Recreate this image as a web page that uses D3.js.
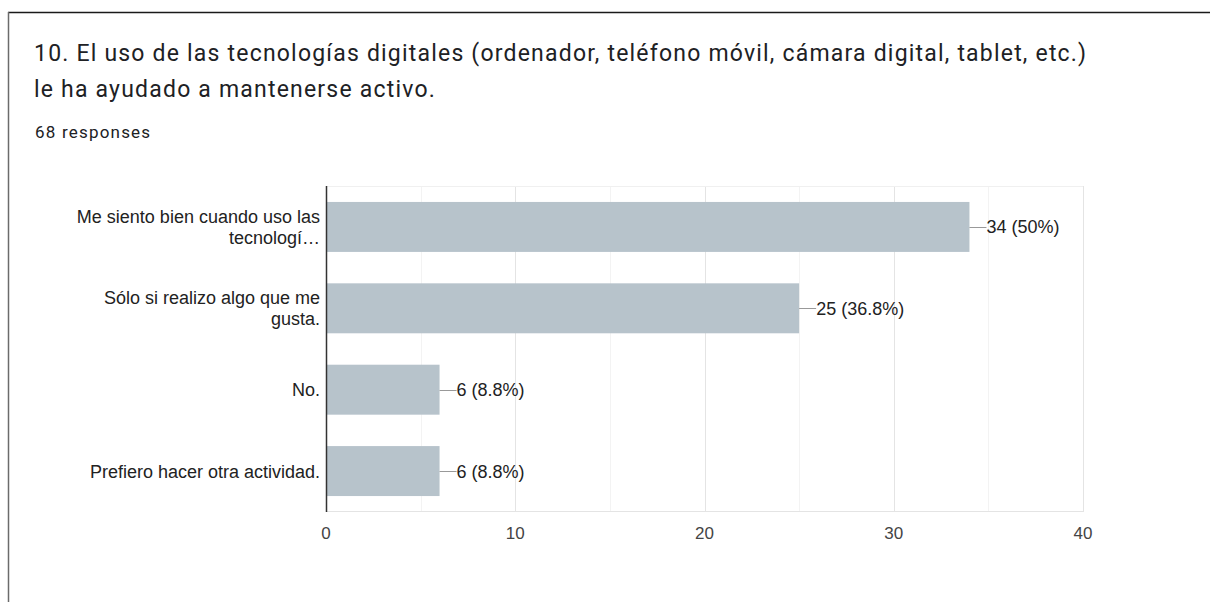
<!DOCTYPE html>
<html>
<head>
<meta charset="utf-8">
<script src="https://cdn.jsdelivr.net/npm/d3@7.9.0/dist/d3.min.js"></script>
<style>
  html, body { margin: 0; padding: 0; background: #fff; }
  svg { display: block; }
</style>
</head>
<body>
<svg id="chart" width="1210" height="602"></svg>
<script>
const titleLines = [
  "10. El uso de las tecnologías digitales (ordenador, teléfono móvil, cámara digital, tablet, etc.)",
  "le ha ayudado a mantenerse activo.",
];
const responsesText = "68 responses";
const categories = [
  "Me siento bien cuando uso las tecnologías",
  "Sólo si realizo algo que me gusta.",
  "No.",
  "Prefiero hacer otra actividad.",
];
const categoryLines = [
  ["Me siento bien cuando uso las", "tecnologí…"],
  ["Sólo si realizo algo que me", "gusta."],
  ["No."],
  ["Prefiero hacer otra actividad."],
];
const counts = [34, 25, 6, 6];
const percentLabels = ["50%", "36.8%", "8.8%", "8.8%"];
const xTicks = [0, 10, 20, 30, 40];
const xMinorTicks = [5, 15, 25, 35];

const chartFont = "'Liberation Sans', Arial, Helvetica, sans-serif";
const chartFontSize = 18;

const svg = d3.select("#chart");

// card frame
svg.append("line").attr("x1", 8).attr("x2", 1210).attr("y1", 12.5).attr("y2", 12.5)
  .attr("stroke", "#1a1a1a").attr("stroke-width", 1.5);
svg.append("line").attr("x1", 8.5).attr("x2", 8.5).attr("y1", 12).attr("y2", 602)
  .attr("stroke", "#6b6b6b").attr("stroke-width", 1.5);

svg.selectAll("text.title")
  .data(titleLines)
  .join("text")
  .attr("class", "title")
  .attr("x", 34)
  .attr("y", (d, i) => 61 + i * 36)
  .attr("font-family", "Roboto, sans-serif")
  .attr("font-size", 23)
  .attr("letter-spacing", 1.2)
  .attr("fill", "#202124")
  .text((d) => d);

svg.append("text")
  .attr("x", 35)
  .attr("y", 138)
  .attr("font-family", "Roboto, sans-serif")
  .attr("font-size", 17)
  .attr("letter-spacing", 1.2)
  .attr("fill", "#202124")
  .text(responsesText);

const plotLeft = 326, plotRight = 1083, plotTop = 186, plotBottom = 512;

const x = d3.scaleLinear().domain([0, 40]).range([plotLeft, plotRight]);
const y = d3.scaleBand()
  .domain(categories)
  .range([plotTop, plotBottom])
  .paddingInner(0.386)
  .paddingOuter(0.196);

// gridlines
svg.selectAll("line.minor")
  .data(xMinorTicks)
  .join("line")
  .attr("class", "minor")
  .attr("x1", (d) => Math.round(x(d)) + 0.5).attr("x2", (d) => Math.round(x(d)) + 0.5)
  .attr("y1", plotTop).attr("y2", plotBottom)
  .attr("stroke", "#f3f3f3");

svg.selectAll("line.major")
  .data(xTicks.slice(1))
  .join("line")
  .attr("class", "major")
  .attr("x1", (d) => Math.round(x(d)) + 0.5).attr("x2", (d) => Math.round(x(d)) + 0.5)
  .attr("y1", plotTop).attr("y2", plotBottom)
  .attr("stroke", "#e4e4e4");

svg.append("line").attr("x1", plotLeft).attr("x2", plotRight)
  .attr("y1", plotTop + 0.5).attr("y2", plotTop + 0.5).attr("stroke", "#f0f0f0");
svg.append("line").attr("x1", plotLeft).attr("x2", plotRight)
  .attr("y1", plotBottom - 0.5).attr("y2", plotBottom - 0.5).attr("stroke", "#e4e4e4");

// bars
svg.selectAll("rect.bar")
  .data(counts)
  .join("rect")
  .attr("class", "bar")
  .attr("x", x(0))
  .attr("y", (d, i) => y(categories[i]))
  .attr("width", (d) => x(d) - x(0))
  .attr("height", y.bandwidth())
  .attr("fill", "#b7c3cb");

// value labels with leader lines
counts.forEach((d, i) => {
  const cy = y(categories[i]) + y.bandwidth() / 2;
  svg.append("line")
    .attr("x1", x(d)).attr("x2", x(d) + 17)
    .attr("y1", Math.round(cy) + 0.5).attr("y2", Math.round(cy) + 0.5)
    .attr("stroke", "#999");
  svg.append("text")
    .attr("x", x(d) + 17)
    .attr("y", cy)
    .attr("dy", "0.36em")
    .attr("font-family", chartFont)
    .attr("font-size", chartFontSize)
    .attr("fill", "#222")
    .text(`${d} (${percentLabels[i]})`);
});

// category labels
categoryLines.forEach((lines, i) => {
  const cy = y(categories[i]) + y.bandwidth() / 2;
  const t = svg.append("text")
    .attr("text-anchor", "end")
    .attr("font-family", chartFont)
    .attr("font-size", chartFontSize)
    .attr("fill", "#222");
  lines.forEach((line, j) => {
    t.append("tspan")
      .attr("x", 320)
      .attr("y", cy + (j - (lines.length - 1) / 2) * 21)
      .attr("dy", "0.36em")
      .text(line);
  });
});

// baseline axis
svg.append("line").attr("x1", plotLeft + 0.5).attr("x2", plotLeft + 0.5)
  .attr("y1", plotTop).attr("y2", plotBottom)
  .attr("stroke", "#333").attr("stroke-width", 1.5);

// x tick labels
svg.selectAll("text.tick")
  .data(xTicks)
  .join("text")
  .attr("class", "tick")
  .attr("x", (d) => x(d))
  .attr("y", 539)
  .attr("text-anchor", "middle")
  .attr("font-family", chartFont)
  .attr("font-size", 17)
  .attr("fill", "#444")
  .text((d) => d);
</script>
</body>
</html>
